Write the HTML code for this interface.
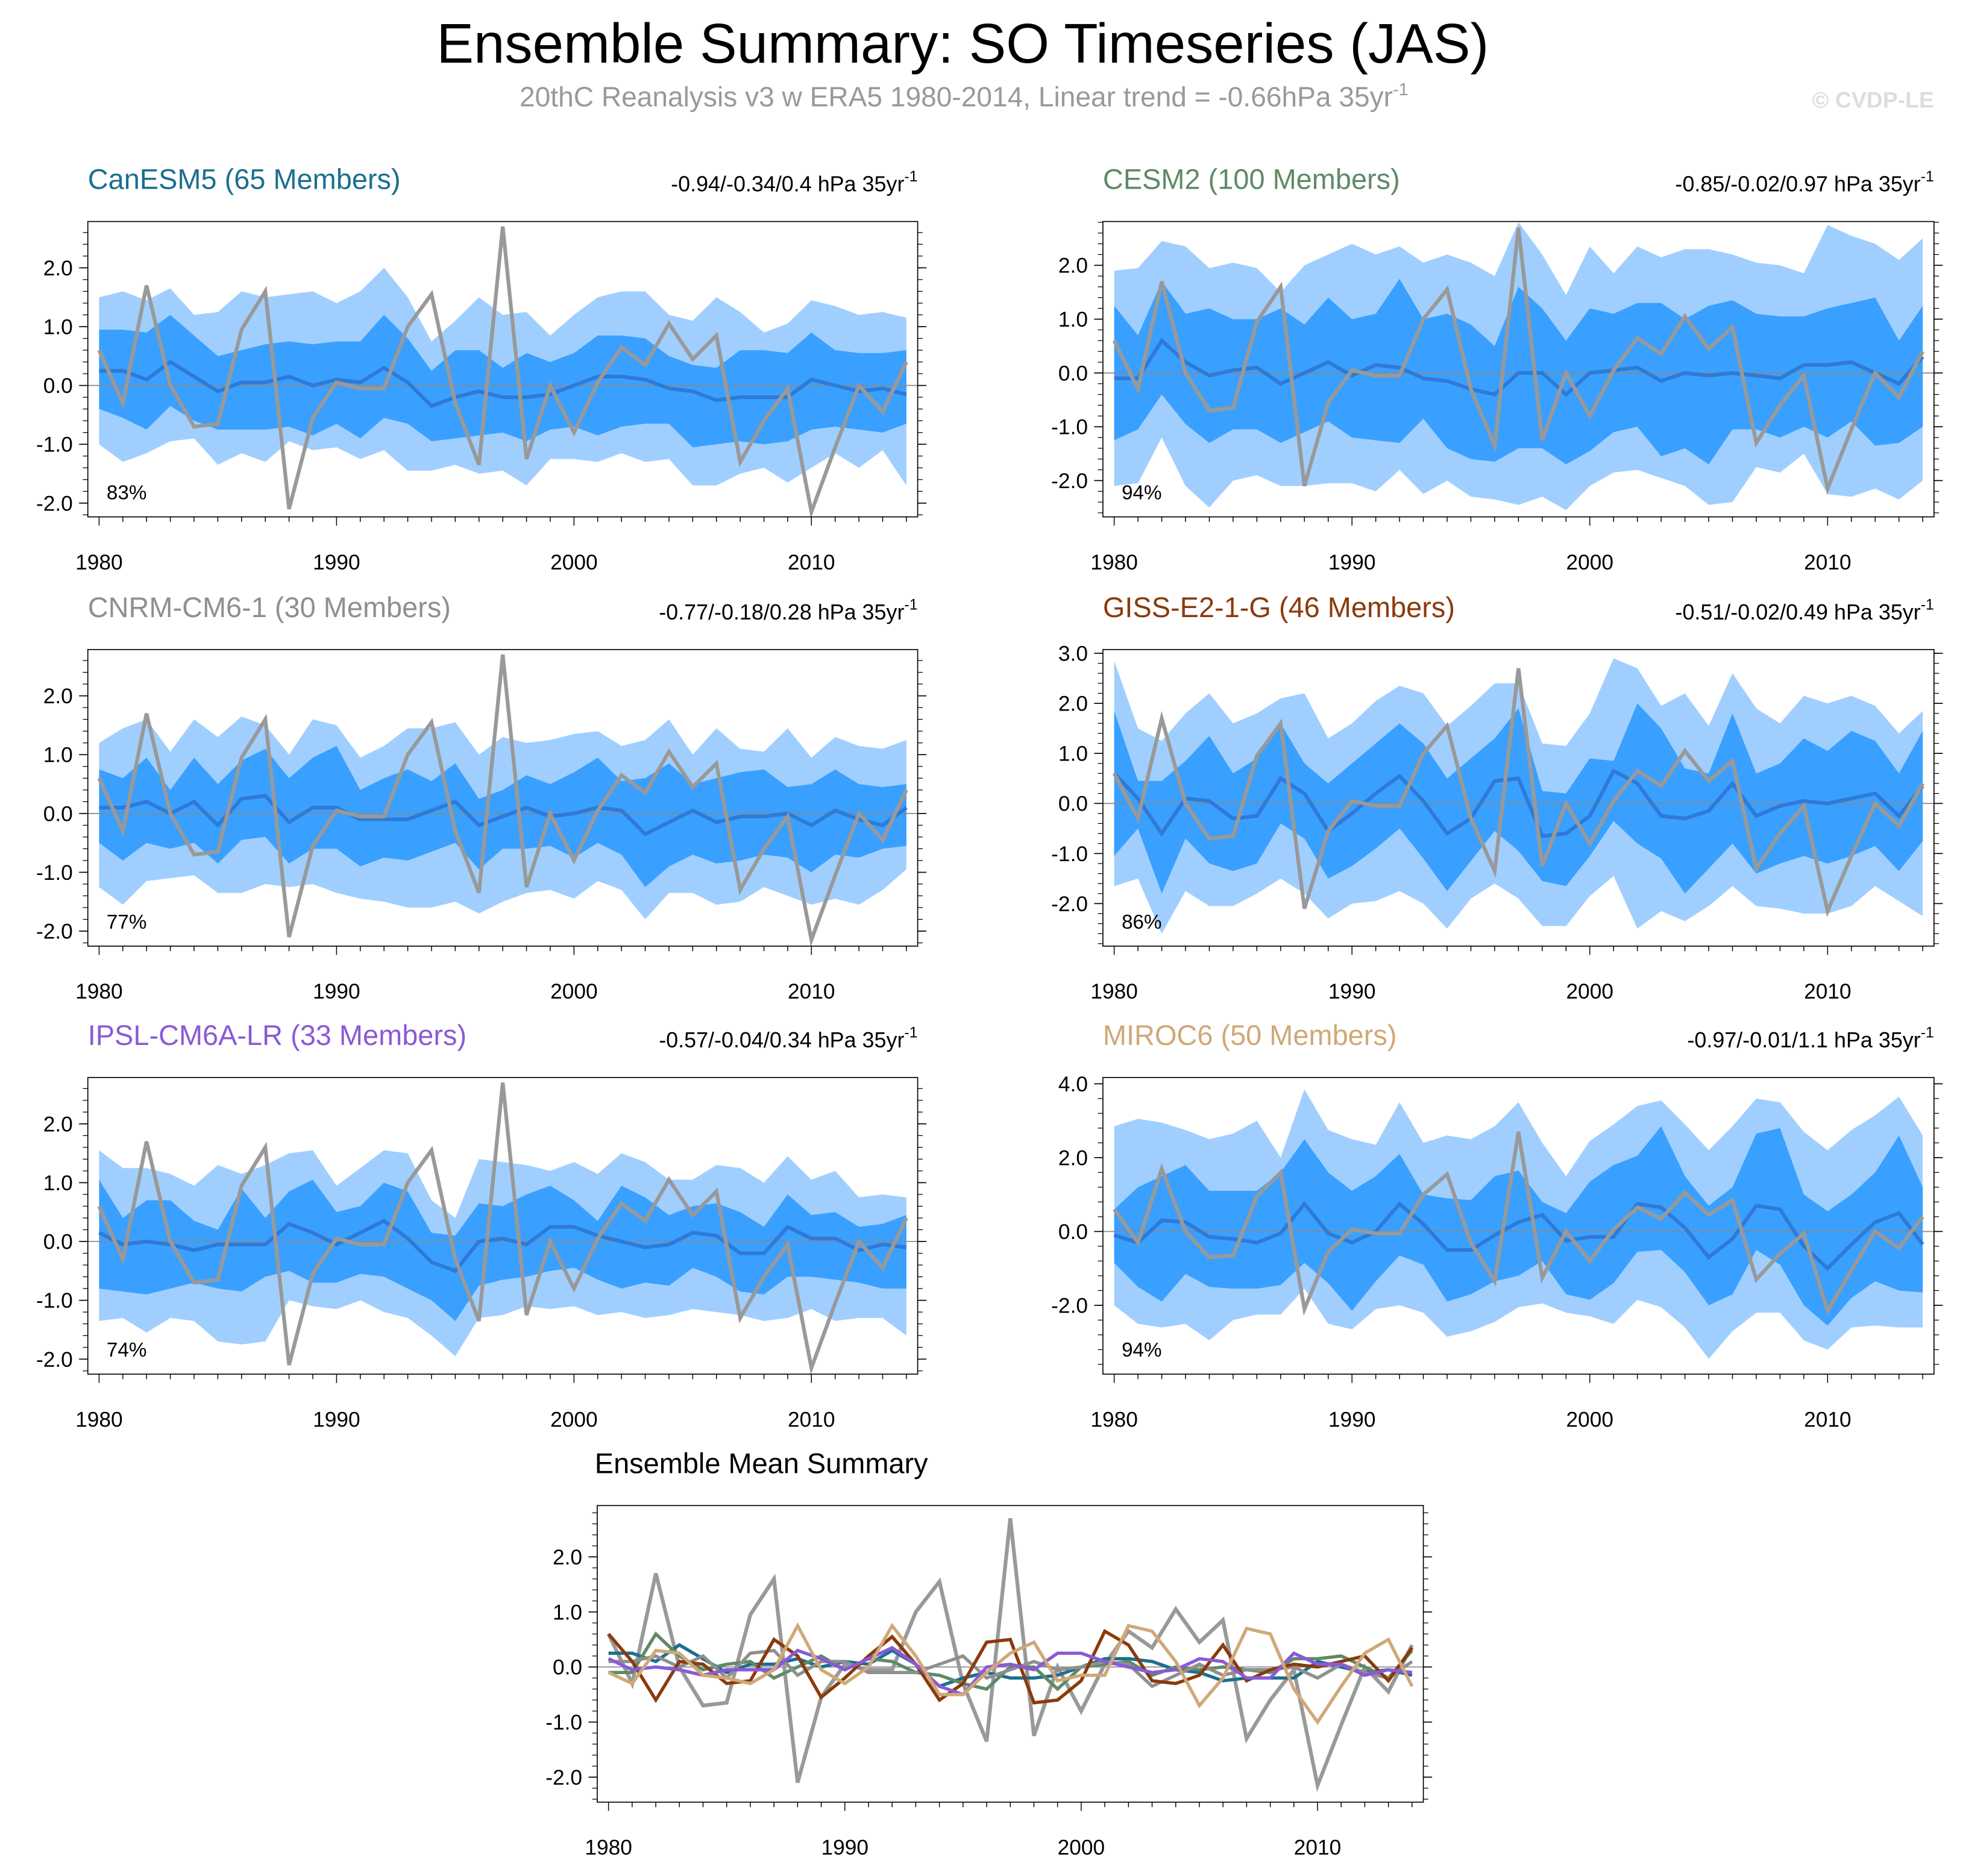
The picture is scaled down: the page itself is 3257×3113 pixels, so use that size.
<!DOCTYPE html>
<html><head><meta charset="utf-8">
<style>
html,body{margin:0;padding:0;background:#fff;}
svg{display:block;font-family:"Liberation Sans",sans-serif;}
</style></head>
<body>
<svg id="chart" width="3257" height="3113" viewBox="0 0 1568 1499" xmlns="http://www.w3.org/2000/svg">
<rect x="0" y="0" width="1568" height="1499" fill="#fff"/>
<text x="769" y="50" font-size="44.5" text-anchor="middle" fill="#000">Ensemble Summary: SO Timeseries (JAS)</text>
<text x="770" y="85" font-size="22.2" text-anchor="middle" fill="#999">20thC Reanalysis v3 w ERA5 1980-2014, Linear trend = -0.66hPa 35yr<tspan dy="-9" font-size="14">-1</tspan></text>
<text x="1545" y="86" font-size="18" font-weight="bold" text-anchor="end" fill="#ddd">© CVDP-LE</text>
<g id="plots"></g>
</svg>
<script>
const years = [];
for (let y = 1980; y <= 2014; y++) years.push(y);
const obs = [0.6,-0.3,1.7,0.0,-0.7,-0.65,0.95,1.6,-2.1,-0.55,0.05,-0.05,-0.05,1.0,1.55,-0.3,-1.35,2.7,-1.25,0.0,-0.8,0.05,0.65,0.35,1.05,0.45,0.85,-1.3,-0.6,-0.05,-2.15,-1.05,0.0,-0.45,0.4];

const canMean=[0.25,0.25,0.1,0.4,0.15,-0.1,0.05,0.05,0.15,0,0.1,0.05,0.3,0.05,-0.35,-0.2,-0.1,-0.2,-0.2,-0.15,0,0.15,0.15,0.1,-0.05,-0.1,-0.25,-0.2,-0.2,-0.2,0.1,0,-0.1,-0.05,-0.15];
const canHi1=[0.95,0.95,0.9,1.2,0.85,0.5,0.6,0.7,0.75,0.7,0.75,0.75,1.2,0.8,0.25,0.6,0.6,0.3,0.55,0.4,0.55,0.85,0.85,0.8,0.5,0.35,0.3,0.6,0.6,0.55,0.9,0.6,0.55,0.55,0.6];
const canLo1=[-0.4,-0.55,-0.75,-0.35,-0.6,-0.75,-0.75,-0.75,-0.7,-0.85,-0.65,-0.9,-0.55,-0.65,-0.95,-0.9,-0.85,-0.8,-0.95,-0.75,-0.7,-0.85,-0.7,-0.65,-0.65,-1.05,-1.0,-0.95,-1.0,-0.95,-0.75,-0.7,-0.75,-0.8,-0.65];
const canHi2=[1.5,1.6,1.45,1.65,1.2,1.25,1.6,1.5,1.55,1.6,1.4,1.6,2.0,1.5,0.75,1.1,1.5,1.2,1.25,0.85,1.2,1.5,1.6,1.6,1.2,1.1,1.5,1.25,0.9,1.05,1.45,1.35,1.2,1.25,1.15];
const canLo2=[-1.0,-1.3,-1.15,-0.95,-0.9,-1.35,-1.15,-1.3,-0.95,-1.1,-1.05,-1.25,-1.1,-1.45,-1.45,-1.35,-1.5,-1.45,-1.7,-1.25,-1.25,-1.3,-1.15,-1.3,-1.25,-1.7,-1.7,-1.5,-1.4,-1.65,-1.4,-1.15,-1.4,-1.1,-1.7];

const cesMean=[-0.1,-0.1,0.6,0.2,-0.05,0.05,0.1,-0.2,0,0.2,-0.05,0.15,0.1,-0.1,-0.15,-0.3,-0.4,0,0,-0.4,0,0.05,0.1,-0.15,0,-0.05,0,-0.05,-0.1,0.15,0.15,0.2,0,-0.2,0.3];
const cesHi1=[1.25,0.7,1.7,1.1,1.2,1.0,1.0,1.2,0.9,1.4,1.0,1.1,1.75,1.0,1.1,0.9,0.5,1.6,1.2,0.6,1.2,1.1,1.3,1.3,1.0,1.25,1.35,1.1,1.05,1.05,1.2,1.3,1.4,0.6,1.25];
const cesLo1=[-1.25,-1.05,-0.4,-0.95,-1.3,-1.05,-1.05,-1.3,-1.1,-0.9,-1.2,-1.25,-1.3,-0.85,-1.4,-1.6,-1.65,-1.4,-1.4,-1.7,-1.45,-1.1,-1.0,-1.55,-1.4,-1.7,-1.05,-1.05,-1.2,-1.0,-1.2,-0.9,-1.35,-1.3,-1.0];
const cesHi2=[1.9,1.95,2.45,2.35,1.95,2.05,1.95,1.5,2.0,2.2,2.4,2.2,2.35,2.05,2.2,2.05,1.8,2.8,2.2,1.45,2.35,1.85,2.35,2.15,2.3,2.3,2.2,2.05,2.0,1.85,2.75,2.55,2.4,2.1,2.5];
const cesLo2=[-2.1,-2.05,-1.2,-2.1,-2.5,-2.0,-1.9,-2.1,-2.1,-2.05,-2.05,-2.2,-1.8,-2.25,-2.0,-2.3,-2.35,-2.45,-2.3,-2.55,-2.1,-1.85,-1.8,-1.95,-2.1,-2.45,-2.4,-1.75,-1.85,-1.5,-2.25,-2.3,-2.15,-2.35,-2.0];

const cnrMean=[0.1,0.1,0.2,0,0.2,-0.2,0.25,0.3,-0.15,0.1,0.1,-0.1,-0.1,-0.1,0.05,0.2,-0.2,-0.05,0.1,-0.05,0,0.1,0.05,-0.35,-0.15,0.05,-0.15,-0.05,-0.05,0,-0.2,0.05,-0.1,-0.2,0.1];
const cnrHi1=[0.75,0.6,0.95,0.4,0.95,0.5,0.9,1.1,0.6,0.95,1.15,0.4,0.6,0.75,0.55,0.85,0.25,0.4,0.65,0.5,0.7,0.95,0.55,0.6,0.85,0.5,0.6,0.7,0.75,0.45,0.5,0.75,0.5,0.45,0.5];
const cnrLo1=[-0.5,-0.8,-0.5,-0.6,-0.5,-0.85,-0.45,-0.4,-0.85,-0.6,-0.6,-0.9,-0.75,-0.8,-0.65,-0.5,-0.95,-0.6,-0.6,-0.55,-0.75,-0.5,-0.7,-1.25,-0.9,-0.7,-0.85,-0.8,-0.7,-0.75,-1.0,-0.7,-0.75,-0.6,-0.55];
const cnrHi2=[1.2,1.45,1.6,1.05,1.6,1.3,1.65,1.5,1.0,1.6,1.5,0.95,1.15,1.45,1.45,1.55,1.0,1.3,1.2,1.25,1.35,1.4,1.15,1.25,1.6,1.0,1.45,1.1,1.05,1.45,0.95,1.3,1.15,1.1,1.25];
const cnrLo2=[-1.25,-1.55,-1.15,-1.1,-1.05,-1.35,-1.35,-1.2,-1.25,-1.2,-1.35,-1.45,-1.5,-1.6,-1.6,-1.5,-1.7,-1.5,-1.35,-1.3,-1.45,-1.15,-1.3,-1.8,-1.35,-1.35,-1.55,-1.5,-1.25,-1.4,-1.55,-1.45,-1.55,-1.3,-0.95];

const gisMean=[0.6,0.1,-0.6,0.1,0.05,-0.3,-0.25,0.5,0.2,-0.55,-0.2,0.2,0.55,0.05,-0.6,-0.3,0.45,0.5,-0.65,-0.6,-0.25,0.65,0.4,-0.25,-0.3,-0.15,0.4,-0.25,-0.05,0.05,0,0.1,0.2,-0.25,0.35];
const gisHi1=[1.85,0.45,0.45,0.85,1.35,0.6,0.9,1.6,0.8,0.4,0.8,1.2,1.6,1.2,0.5,0.9,1.3,1.9,0.25,0.2,0.9,0.85,2.0,1.5,0.7,0.6,1.8,0.6,0.8,1.3,1.05,1.45,1.25,0.6,1.45];
const gisLo1=[-1.05,-0.5,-1.8,-0.7,-1.2,-1.35,-1.2,-0.4,-0.7,-1.5,-1.25,-0.9,-0.5,-1.1,-1.75,-1.15,-0.55,-0.95,-1.55,-1.65,-1.05,-0.35,-0.8,-1.1,-1.8,-1.3,-0.8,-1.4,-1.2,-1.05,-1.2,-1.05,-0.85,-1.35,-0.75];
const gisHi2=[2.85,1.5,1.25,1.8,2.2,1.6,1.8,2.1,2.2,1.3,1.6,2.05,2.35,2.2,1.55,1.95,2.4,2.4,1.2,1.15,1.8,2.9,2.7,1.95,2.2,1.55,2.6,1.9,1.6,2.15,2.0,2.15,1.95,1.4,1.85];
const gisLo2=[-1.65,-1.5,-2.6,-1.75,-2.05,-2.05,-1.8,-1.5,-1.8,-2.3,-2.0,-1.95,-1.75,-2.0,-2.5,-1.9,-1.6,-1.9,-2.45,-2.45,-1.85,-1.45,-2.5,-2.15,-2.35,-2.05,-1.65,-2.05,-2.1,-2.2,-2.2,-2.05,-1.65,-1.95,-2.25];

const ipsMean=[0.15,-0.05,0,-0.05,-0.15,-0.05,-0.05,-0.05,0.3,0.15,-0.05,0.15,0.35,0.05,-0.35,-0.5,0,0.05,-0.05,0.25,0.25,0.1,0,-0.1,-0.05,0.15,0.1,-0.2,-0.2,0.25,0.05,0.05,-0.15,-0.05,-0.1];
const ipsHi1=[1.05,0.4,0.7,0.7,0.35,0.2,0.9,0.4,0.85,1.05,0.5,0.6,1.0,0.85,0.15,0.1,0.65,0.6,0.8,0.95,0.7,0.35,0.95,0.75,0.45,0.6,0.65,0.5,0.25,0.8,0.45,0.5,0.25,0.3,0.45];
const ipsLo1=[-0.8,-0.85,-0.9,-0.8,-0.7,-0.8,-0.85,-0.6,-0.5,-0.7,-0.7,-0.55,-0.6,-0.8,-1.0,-1.35,-0.75,-0.65,-0.6,-0.5,-0.45,-0.65,-0.8,-0.7,-0.75,-0.45,-0.6,-0.85,-0.9,-0.6,-0.6,-0.65,-0.7,-0.8,-0.8];
const ipsHi2=[1.55,1.25,1.25,1.15,0.95,1.3,1.15,1.3,1.5,1.55,0.95,1.25,1.55,1.5,0.7,0.4,1.4,1.35,1.3,1.2,1.35,1.15,1.5,1.35,1.05,1.05,1.3,1.25,1.0,1.45,1.05,1.2,0.75,0.8,0.75];
const ipsLo2=[-1.35,-1.3,-1.55,-1.3,-1.35,-1.7,-1.75,-1.7,-1.0,-1.1,-1.15,-1.0,-1.2,-1.3,-1.6,-1.95,-1.3,-1.25,-1.1,-1.15,-1.1,-1.25,-1.2,-1.3,-1.25,-1.15,-1.2,-1.25,-1.35,-1.3,-1.15,-1.35,-1.3,-1.3,-1.6];

const mirMean=[-0.1,-0.3,0.3,0.25,-0.15,-0.2,-0.3,-0.05,0.75,-0.05,-0.3,0,0.75,0.2,-0.5,-0.5,-0.1,0.25,0.45,-0.25,-0.15,-0.15,0.75,0.65,0.1,-0.7,-0.2,0.7,0.6,-0.4,-1.0,-0.35,0.25,0.5,-0.35];
const mirHi1=[0.6,1.2,1.5,1.8,1.1,1.1,1.1,1.6,2.5,1.6,1.1,1.5,2.1,1.0,0.9,0.85,1.5,1.65,0.8,0.5,1.35,1.8,2.05,2.85,1.5,0.7,1.2,2.65,2.8,1.0,0.55,1.0,1.6,2.6,1.2];
const mirLo1=[-0.85,-1.5,-1.9,-1.15,-1.5,-1.55,-1.55,-1.45,-0.85,-1.4,-2.15,-1.35,-0.65,-0.9,-1.9,-1.7,-1.35,-1.2,-0.8,-1.7,-1.85,-1.4,-0.55,-0.5,-1.1,-2.0,-1.7,-0.5,-0.9,-2.0,-2.55,-1.8,-1.35,-1.6,-1.65];
const mirHi2=[2.85,3.05,2.95,2.75,2.5,2.65,3.0,2.0,3.85,2.75,2.5,2.35,3.5,2.4,2.6,2.5,2.85,3.5,2.4,1.5,2.45,2.9,3.4,3.55,2.9,2.2,2.85,3.6,3.5,2.7,2.2,2.75,3.15,3.65,2.6];
const mirLo2=[-2.0,-2.5,-2.6,-2.5,-2.95,-2.4,-2.25,-2.25,-1.55,-2.5,-2.65,-2.1,-2.0,-2.2,-2.85,-2.7,-2.45,-2.05,-1.95,-2.2,-2.3,-2.5,-1.85,-2.05,-2.6,-3.45,-2.7,-2.2,-2.2,-2.95,-3.2,-2.6,-2.55,-2.6,-2.6];

const NS = "http://www.w3.org/2000/svg";
const root = document.getElementById('plots');
function mk(tag, attrs, parent) {
  const e = document.createElementNS(NS, tag);
  for (const k in attrs) e.setAttribute(k, attrs[k]);
  (parent || root).appendChild(e);
  return e;
}

const panels = [
  {key:'canesm5', title:'CanESM5 (65 Members)', color:'#1b6f8f', trend:'-0.94/-0.34/0.4 hPa 35yr', pct:'83%', x0:70,x1:733,y0:177,y1:413, zeroY:308, perUnit:47, yticks:[-2,-1,0,1,2], mean:canMean, hi1:canHi1, lo1:canLo1, hi2:canHi2, lo2:canLo2},
  {key:'cesm2', title:'CESM2 (100 Members)', color:'#5e8a66', trend:'-0.85/-0.02/0.97 hPa 35yr', pct:'94%', x0:881,x1:1545,y0:177,y1:413, zeroY:298, perUnit:43, yticks:[-2,-1,0,1,2], mean:cesMean, hi1:cesHi1, lo1:cesLo1, hi2:cesHi2, lo2:cesLo2},
  {key:'cnrm', title:'CNRM-CM6-1 (30 Members)', color:'#8f8f8f', trend:'-0.77/-0.18/0.28 hPa 35yr', pct:'77%', x0:70,x1:733,y0:519,y1:756, zeroY:650, perUnit:47, yticks:[-2,-1,0,1,2], mean:cnrMean, hi1:cnrHi1, lo1:cnrLo1, hi2:cnrHi2, lo2:cnrLo2},
  {key:'giss', title:'GISS-E2-1-G (46 Members)', color:'#8a3a0c', trend:'-0.51/-0.02/0.49 hPa 35yr', pct:'86%', x0:881,x1:1545,y0:519,y1:756, zeroY:642, perUnit:40, yticks:[-2,-1,0,1,2,3], mean:gisMean, hi1:gisHi1, lo1:gisLo1, hi2:gisHi2, lo2:gisLo2},
  {key:'ipsl', title:'IPSL-CM6A-LR (33 Members)', color:'#8a5ad6', trend:'-0.57/-0.04/0.34 hPa 35yr', pct:'74%', x0:70,x1:733,y0:861,y1:1098, zeroY:992, perUnit:47, yticks:[-2,-1,0,1,2], mean:ipsMean, hi1:ipsHi1, lo1:ipsLo1, hi2:ipsHi2, lo2:ipsLo2},
  {key:'miroc6', title:'MIROC6 (50 Members)', color:'#d0a878', trend:'-0.97/-0.01/1.1 hPa 35yr', pct:'94%', x0:881,x1:1545,y0:861,y1:1098, zeroY:984, perUnit:29.5, yticks:[-2,0,2,4], mean:mirMean, hi1:mirHi1, lo1:mirLo1, hi2:mirHi2, lo2:mirLo2}
];

function axes(p) {
  const xs = y => p.x0 + 9 + (y - 1980) * ((p.x1 - p.x0 - 18) / 34);
  const ys = v => p.zeroY - v * p.perUnit;
  return {xs, ys};
}

function drawFrame(p, g, xs, ys) {
  const box = mk('rect', {x:p.x0, y:p.y0, width:p.x1-p.x0, height:p.y1-p.y0, fill:'none', stroke:'#000', 'stroke-width':0.8}, g);
  
  
  const step = p.yticks[1]-p.yticks[0];
  for (let i = 0; i < p.yticks.length; i++) {
    const v = p.yticks[i];
    const y = ys(v);
    mk('line', {x1:p.x0-7, x2:p.x0, y1:y, y2:y, stroke:'#000', 'stroke-width':0.8}, g);
    mk('line', {x1:p.x1, x2:p.x1+7, y1:y, y2:y, stroke:'#000', 'stroke-width':0.8}, g);
    const t = mk('text', {x:p.x0-12, y:y+6, 'font-size':17, 'text-anchor':'end', fill:'#000'}, g);
    t.textContent = v.toFixed(1);
    
    
  }
  const minorStep = step/5;
  for (let v = p.yticks[0]-step; v <= p.yticks[p.yticks.length-1]+step; v += minorStep) {
    const y = ys(v);
    if (y < p.y0 || y > p.y1) continue;
    mk('line', {x1:p.x0-4, x2:p.x0, y1:y, y2:y, stroke:'#000', 'stroke-width':0.6}, g);
    mk('line', {x1:p.x1, x2:p.x1+4, y1:y, y2:y, stroke:'#000', 'stroke-width':0.6}, g);
  }
  for (let i = 0; i < years.length; i++) {
    const yr = years[i], x = xs(yr), major = yr % 10 === 0;
    mk('line', {x1:x, x2:x, y1:p.y1, y2:p.y1+(major?7:4), stroke:'#000', 'stroke-width':0.7}, g);
    if (major) {
      const t = mk('text', {x:x, y:p.y1+42, 'font-size':17, 'text-anchor':'middle', fill:'#000'}, g);
      t.textContent = yr;
      
      
    }
  }
}

function linePath(arr, xs, ys) {
  return arr.map((v,i) => (i?'L':'M') + xs(years[i]).toFixed(1) + ',' + ys(v).toFixed(1)).join(' ');
}
function bandPath(hi, lo, xs, ys) {
  let d = hi.map((v,i) => (i?'L':'M') + xs(years[i]).toFixed(1) + ',' + ys(v).toFixed(1)).join(' ');
  for (let i = lo.length-1; i >= 0; i--) d += ' L' + xs(years[i]).toFixed(1) + ',' + ys(lo[i]).toFixed(1);
  return d + ' Z';
}

for (const p of panels) {
  const {xs, ys} = axes(p);
  const g = mk('g', {});
  
  
  const outer = mk('path', {d:bandPath(p.hi2, p.lo2, xs, ys), fill:'#a0cfff'}, g);
  
  
  const inner = mk('path', {d:bandPath(p.hi1, p.lo1, xs, ys), fill:'#3aa0ff'}, g);
  
  
  const zl = mk('line', {x1:p.x0, x2:p.x1, y1:ys(0), y2:ys(0), stroke:'#888', 'stroke-width':0.8}, g);
  
  
  const ml = mk('path', {d:linePath(p.mean, xs, ys), fill:'none', stroke:'#2f7ad6', 'stroke-width':3}, g);
  
  
  const ol = mk('path', {d:linePath(obs, xs, ys), fill:'none', stroke:'#999', 'stroke-width':3}, g);
  
  
  drawFrame(p, g, xs, ys);
  const tt = mk('text', {x:p.x0, y:p.y0-26, 'font-size':22.6, fill:p.color}, g);
  tt.textContent = p.title;
  
  
  const tr = mk('text', {x:p.x1, y:p.y0-24, 'font-size':17.3, 'text-anchor':'end', fill:'#000'}, g);
  tr.textContent = p.trend;
  const sup = mk('tspan', {dy:-8, 'font-size':12}, tr);
  sup.textContent = '-1';
  
  
  const pc = mk('text', {x:p.x0+15, y:p.y1-14, 'font-size':16, fill:'#000'}, g);
  pc.textContent = p.pct;
  
  
}

const sp = {x0:477, x1:1137, y0:1203, y1:1440, zeroY:1332, perUnit:44, yticks:[-2,-1,0,1,2]};
{
  const {xs, ys} = axes(sp);
  const g = mk('g', {});
  
  
  const zl = mk('line', {x1:sp.x0, x2:sp.x1, y1:ys(0), y2:ys(0), stroke:'#888', 'stroke-width':0.8}, g);
  
  
  const ol = mk('path', {d:linePath(obs, xs, ys), fill:'none', stroke:'#999', 'stroke-width':3}, g);
  
  
  for (const p of panels) {
    const l = mk('path', {d:linePath(p.mean, xs, ys), fill:'none', stroke:p.color, 'stroke-width':2.6}, g);
    
    
  }
  drawFrame(sp, g, xs, ys);
  const tt = mk('text', {x:sp.x0-2, y:sp.y0-26, 'font-size':22.6, fill:'#000'}, g);
  tt.textContent = 'Ensemble Mean Summary';
  
  
}
</script>
</body></html>
